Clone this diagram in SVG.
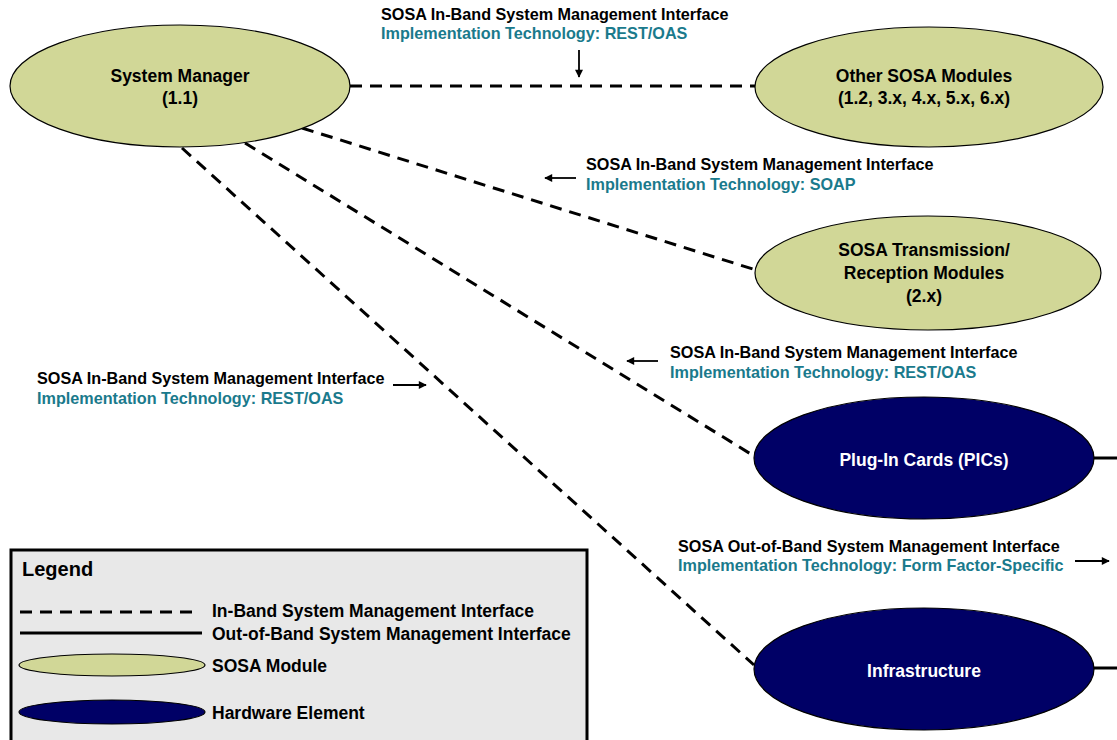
<svg xmlns="http://www.w3.org/2000/svg" width="1117" height="740" viewBox="0 0 1117 740">
<style>
text{font-family:"Liberation Sans",Arial,sans-serif;font-weight:bold}
.lbl{font-size:16.2px;fill:#000}
.tech{font-size:16.2px;fill:#1a7a8c}
.node{font-size:17.5px;text-anchor:middle;fill:#000}
.hw{font-size:17.5px;text-anchor:middle;fill:#fff}
.sosa{fill:#d1d797;stroke:#000;stroke-width:1.2}
.hwe{fill:#000066;stroke:#000;stroke-width:1.2}
.dash{stroke:#000;stroke-width:3;stroke-dasharray:12 8;fill:none}
.solid{stroke:#000;stroke-width:3;fill:none}
.arr{stroke:#000;stroke-width:1.8;fill:none;marker-end:url(#ah)}
.leg{font-size:17.5px;fill:#000}
</style>
<defs>
<marker id="ah" viewBox="0 0 10 10" refX="9" refY="5" markerWidth="9" markerHeight="8" markerUnits="userSpaceOnUse" orient="auto">
<path d="M0,0 L10,5 L0,10 z" fill="#000"/>
</marker>
</defs>
<rect width="1117" height="740" fill="#fff"/>
<g id="connectors">
<line class="dash" x1="350" y1="86" x2="755" y2="86"/>
<line class="dash" x1="302" y1="128" x2="756" y2="270"/>
<line class="dash" x1="245" y1="143" x2="754" y2="456"/>
<line class="dash" x1="182" y1="148" x2="754" y2="665"/>
<line class="solid" x1="1093" y1="458" x2="1117" y2="458"/>
<line class="solid" x1="1093" y1="668" x2="1117" y2="668"/>
</g>
<g id="labels">
<g id="label-top">
<text class="lbl" x="381" y="20">SOSA In-Band System Management Interface</text>
<text class="tech" x="381" y="39">Implementation Technology: REST/OAS</text>
<line class="arr" x1="579" y1="50" x2="579" y2="77"/>
</g>
<g id="label-soap">
<text class="lbl" x="586" y="170">SOSA In-Band System Management Interface</text>
<text class="tech" x="586" y="190">Implementation Technology: SOAP</text>
<line class="arr" x1="576" y1="178" x2="545" y2="178"/>
</g>
<g id="label-pic">
<text class="lbl" x="670" y="358">SOSA In-Band System Management Interface</text>
<text class="tech" x="670" y="378">Implementation Technology: REST/OAS</text>
<line class="arr" x1="658" y1="361" x2="627" y2="361"/>
</g>
<g id="label-infra">
<text class="lbl" x="37" y="384">SOSA In-Band System Management Interface</text>
<text class="tech" x="37" y="404">Implementation Technology: REST/OAS</text>
<line class="arr" x1="393" y1="385" x2="426" y2="385"/>
</g>
<g id="label-oob">
<text class="lbl" x="678" y="552">SOSA Out-of-Band System Management Interface</text>
<text class="tech" x="678" y="571">Implementation Technology: Form Factor-Specific</text>
<line class="arr" x1="1075" y1="561" x2="1109" y2="561"/>
</g>
</g>
<g id="system-manager">
<ellipse class="sosa" cx="180" cy="86" rx="170" ry="61"/>
<text class="node" x="180" y="82">System Manager</text>
<text class="node" x="180" y="104">(1.1)</text>
</g>
<g id="other-sosa">
<ellipse class="sosa" cx="929" cy="87" rx="174" ry="60"/>
<text class="node" x="924" y="82">Other SOSA Modules</text>
<text class="node" x="924" y="104">(1.2, 3.x,  4.x, 5.x, 6.x)</text>
</g>
<g id="sosa-transmission">
<ellipse class="sosa" cx="928" cy="273" rx="173" ry="57"/>
<text class="node" x="924" y="256">SOSA Transmission/</text>
<text class="node" x="924" y="279">Reception Modules</text>
<text class="node" x="924" y="302">(2.x)</text>
</g>
<g id="plug-in-cards">
<ellipse class="hwe" cx="924" cy="458" rx="170" ry="61"/>
<text class="hw" x="924" y="466">Plug-In Cards (PICs)</text>
</g>
<g id="infrastructure">
<ellipse class="hwe" cx="924" cy="669" rx="170" ry="61"/>
<text class="hw" x="924" y="677">Infrastructure</text>
</g>
<g id="legend">
<rect x="11" y="550" width="576" height="200" fill="#e8e8e8" stroke="#000" stroke-width="3"/>
<text x="22" y="576" style="font-size:20px">Legend</text>
<line class="dash" x1="20" y1="612" x2="200" y2="612"/>
<text class="leg" x="212" y="617">In-Band System Management Interface</text>
<line class="solid" x1="20" y1="633" x2="202" y2="633"/>
<text class="leg" x="212" y="640">Out-of-Band System Management Interface</text>
<ellipse class="sosa" cx="112" cy="665" rx="93" ry="11"/>
<text class="leg" x="212" y="672">SOSA Module</text>
<ellipse class="hwe" cx="112" cy="712" rx="93" ry="12"/>
<text class="leg" x="212" y="719">Hardware Element</text>
</g>
</svg>
